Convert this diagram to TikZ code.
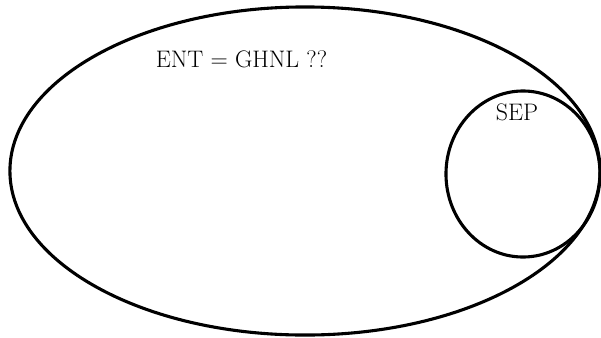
\documentclass[tikz,border=0pt]{standalone}
\usepackage{tikz}
\usetikzlibrary{shapes.geometric, positioning}

\begin{document}
\begin{tikzpicture}[x=0.025cm, y=-0.025cm,
        conjunto/.style={ellipse, draw, line width=2.2pt, inner sep=0pt},
        etiqueta/.style={font=\fontsize{17}{20}\selectfont}]

        \useasboundingbox (0,0) rectangle (601,337);

        % Conjuntos
        \node[conjunto, minimum width=14.75cm, minimum height=8.2cm] (ent) at (305,171) {};
        \node[conjunto, minimum width=3.85cm, minimum height=4.15cm] (sep) at (523,174) {};

        % Etiquetas
        \node[etiqueta] (entlbl) at (241.5,59) {ENT = GHNL ??};
        \node[etiqueta] (seplbl) at (517,112) {SEP};
    \end{tikzpicture}
\end{document}
